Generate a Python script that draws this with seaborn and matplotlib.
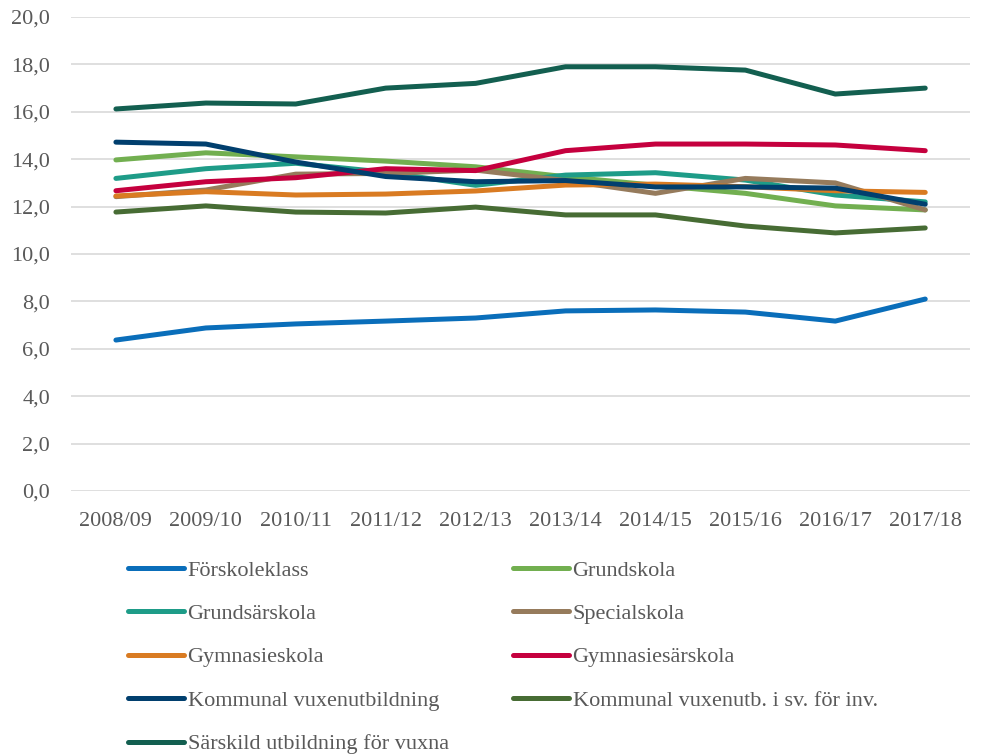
import pandas as pd
import numpy as np
import matplotlib
matplotlib.use("Agg")
import matplotlib.pyplot as plt
import seaborn as sns
from matplotlib.ticker import FuncFormatter

# school years on the x axis
years = ["2008/09", "2009/10", "2010/11", "2011/12", "2012/13",
         "2013/14", "2014/15", "2015/16", "2016/17", "2017/18"]

# values
forskoleklass = [6.37, 6.88, 7.05, 7.17, 7.30, 7.60, 7.64, 7.55, 7.17, 8.10]
grundskola = [13.97, 14.27, 14.10, 13.92, 13.68, 13.26, 12.90, 12.56, 12.03, 11.86]
grundsarskola = [13.19, 13.60, 13.83, 13.45, 12.90, 13.33, 13.43, 13.12, 12.49, 12.20]
specialskola = [12.42, 12.70, 13.37, 13.40, 13.54, 13.10, 12.56, 13.19, 13.00, 11.86]
gymnasieskola = [12.45, 12.63, 12.49, 12.53, 12.66, 12.91, 12.95, 12.84, 12.67, 12.60]
gymnasiesarskola = [12.67, 13.05, 13.22, 13.60, 13.52, 14.36, 14.64, 14.64, 14.60, 14.36]
komvux = [14.72, 14.64, 13.88, 13.27, 13.05, 13.10, 12.83, 12.83, 12.78, 12.10]
komvux_inv = [11.77, 12.03, 11.77, 11.73, 11.98, 11.65, 11.65, 11.18, 10.89, 11.10]
sarvux = [16.12, 16.37, 16.33, 17.00, 17.20, 17.90, 17.90, 17.76, 16.75, 17.00]

series_names = ["Förskoleklass", "Grundskola", "Grundsärskola", "Specialskola",
                "Gymnasieskola", "Gymnasiesärskola", "Kommunal vuxenutbildning",
                "Kommunal vuxenutb. i sv. för inv.", "Särskild utbildning för vuxna"]
series_values = [forskoleklass, grundskola, grundsarskola, specialskola,
                 gymnasieskola, gymnasiesarskola, komvux, komvux_inv, sarvux]
colors = ["#0A6EBA", "#72AF50", "#1E9C88", "#967B5C", "#D97B22",
          "#C5003E", "#013F6E", "#476C34", "#135F50"]

# long format table for seaborn
rows = []
for name, vals in zip(series_names, series_values):
    for yr, v in zip(years, vals):
        rows.append({"year": yr, "value": v, "series": name})
df = pd.DataFrame(rows)

sns.set_style("white")
plt.rcParams["font.family"] = ["Liberation Serif", "DejaVu Serif"]
text_color = "#595959"

fig = plt.figure(figsize=(9.91, 7.56), dpi=100)
ax = fig.add_axes([0.0716, 0.3505, 0.9074, 0.627])

sns.lineplot(data=df, x="year", y="value", hue="series", hue_order=series_names,
             palette=colors, linewidth=3.6, legend=False, ax=ax, sort=False)
for ln in ax.lines:
    ln.set_solid_capstyle("round")
    ln.set_solid_joinstyle("round")

ax.set_xlim(-0.5, len(years) - 0.5)
ax.set_ylim(0, 20)
ax.set_yticks(np.arange(0, 21, 2))
ax.yaxis.set_major_formatter(FuncFormatter(lambda v, p: f"{v:.1f}".replace(".", ",")))
ax.grid(axis="y", color="#D9D9D9", linewidth=1.2)
ax.set_axisbelow(True)
for s in ax.spines.values():
    s.set_visible(False)
ax.set_xlabel("")
ax.set_ylabel("")
ax.tick_params(axis="both", length=0, labelsize=16, labelcolor=text_color)
ax.tick_params(axis="y", pad=15)
ax.tick_params(axis="x", pad=15)

# legend in two columns, placed like the original
handles = ax.lines[:len(series_names)]
col1 = [0, 2, 4, 6, 8]
col2 = [1, 3, 5, 7]
leg_kw = dict(frameon=False, fontsize=16, labelcolor=text_color, handlelength=2.5,
              handletextpad=0.18, labelspacing=1.03, borderaxespad=0, borderpad=0)
leg1 = fig.legend([handles[i] for i in col1], [series_names[i] for i in col1],
                  loc="upper left", bbox_to_anchor=(128 / 991, 1 - 560 / 756), **leg_kw)
leg2 = fig.legend([handles[i] for i in col2], [series_names[i] for i in col2],
                  loc="upper left", bbox_to_anchor=(513 / 991, 1 - 560 / 756), **leg_kw)

fig.savefig("out.png", dpi=100)
